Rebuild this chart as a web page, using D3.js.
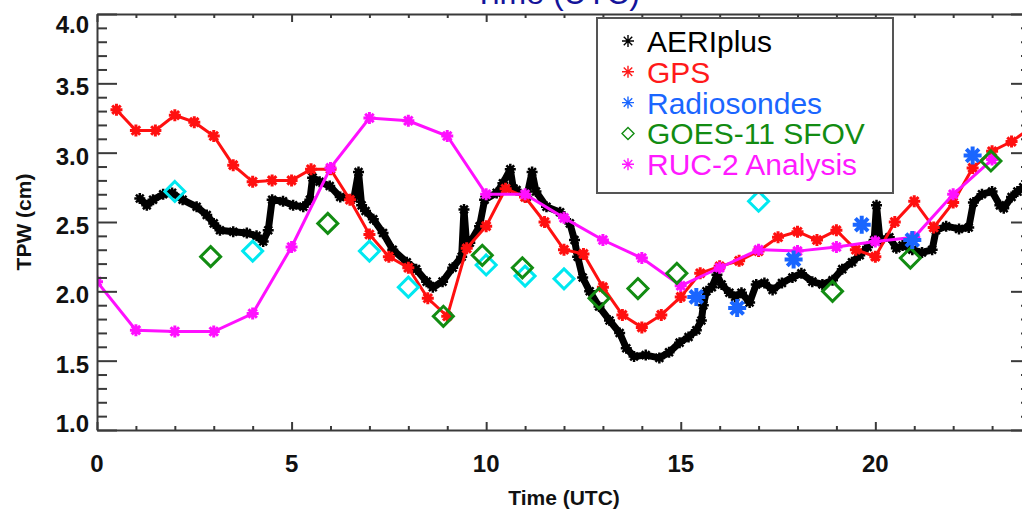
<!DOCTYPE html>
<html>
<head>
<meta charset="utf-8">
<script src="https://cdn.jsdelivr.net/npm/d3@7"></script>
<style>
  html, body { margin: 0; padding: 0; background: #fff; }
  svg { display: block; }
  text { font-family: "Liberation Sans", Arial, Helvetica, sans-serif; }
</style>
</head>
<body>
<svg id="chart" width="1022" height="511"></svg>
<script>
// Total precipitable water over one day, several retrieval sources.

// AERIplus retrieval: [hour UTC, TPW cm]
const aeriHours = [1.10,1.28,1.44,1.70,1.93,2.20,2.56,2.82,3.00,3.16,3.50,3.85,4.10,4.27,4.40,4.50,4.78,5.04,5.30,5.47,5.54,5.72,5.98,6.25,6.60,6.72,6.80,6.90,7.10,7.35,7.60,7.96,8.20,8.47,8.63,8.88,9.14,9.37,9.43,9.50,9.58,9.83,9.96,10.27,10.43,10.62,10.70,10.78,11.04,11.18,11.28,11.55,11.90,12.15,12.27,12.35,12.48,12.66,12.90,13.17,13.43,13.60,13.80,14.10,14.45,14.70,14.97,15.20,15.40,15.53,15.58,15.66,15.80,15.93,16.05,16.25,16.40,16.56,16.77,16.94,17.15,17.36,17.60,17.87,18.10,18.38,18.64,18.90,19.15,19.40,19.60,19.80,19.97,20.03,20.12,20.36,20.54,20.70,20.95,21.20,21.46,21.56,21.82,22.15,22.40,22.52,22.74,23.00,23.20,23.30,23.50,23.65,23.80,24.00];
const aeriTpw   = [2.67,2.62,2.66,2.70,2.71,2.66,2.61,2.55,2.49,2.44,2.43,2.42,2.40,2.36,2.44,2.66,2.65,2.62,2.61,2.66,2.82,2.79,2.76,2.68,2.67,2.86,2.62,2.58,2.52,2.42,2.30,2.21,2.16,2.07,2.03,2.07,2.17,2.25,2.59,2.33,2.35,2.47,2.66,2.71,2.78,2.88,2.74,2.73,2.68,2.86,2.72,2.61,2.57,2.49,2.37,2.25,2.10,2.00,1.89,1.79,1.70,1.59,1.53,1.54,1.52,1.56,1.63,1.67,1.72,1.79,1.90,2.00,2.03,2.12,2.05,1.99,1.96,1.99,1.92,2.05,2.06,2.01,2.06,2.10,2.13,2.07,2.05,2.08,2.16,2.21,2.26,2.32,2.37,2.62,2.37,2.39,2.31,2.33,2.30,2.28,2.30,2.44,2.47,2.45,2.46,2.64,2.70,2.72,2.62,2.60,2.68,2.72,2.75,2.74];

// GPS, half-hourly
const gpsHours = [0.5,1.0,1.5,2.0,2.5,3.0,3.5,4.0,4.5,5.0,5.5,6.0,6.5,7.0,7.5,8.0,8.5,9.0,9.5,10.0,10.5,11.0,11.5,12.0,12.5,13.0,13.5,14.0,14.5,15.0,15.5,16.0,16.5,17.0,17.5,18.0,18.5,19.0,19.5,20.0,20.5,21.0,21.5,22.0,22.5,23.0,23.5,24.0];
const gpsTpw   = [3.31,3.16,3.16,3.27,3.22,3.12,2.91,2.79,2.80,2.80,2.88,2.88,2.66,2.41,2.25,2.17,1.95,1.82,2.31,2.47,2.74,2.68,2.50,2.30,2.27,2.03,1.83,1.74,1.83,1.96,2.13,2.18,2.22,2.29,2.39,2.43,2.37,2.44,2.30,2.25,2.50,2.65,2.46,2.64,2.89,3.01,3.08,3.18];

// Radiosonde launches
const sondeHours = [15.4,16.45,17.9,19.65,20.95,22.5];
const sondeTpw   = [1.96,1.88,2.23,2.48,2.37,2.98];

// GOES-11 single field-of-view retrievals
const goesHours = [2.92,5.93,8.9,9.9,10.93,12.9,13.9,14.9,18.9,20.9,22.97];
const goesTpw   = [2.25,2.49,1.82,2.26,2.17,1.95,2.02,2.13,2.00,2.24,2.94];

// Additional satellite retrievals (cyan)
const cyanHours = [2.0,4.0,7.0,8.0,10.0,11.0,12.0,17.0];
const cyanTpw   = [2.72,2.29,2.29,2.03,2.19,2.11,2.09,2.65];

// RUC-2 analysis, hourly
const rucHours = [0,1,2,3,4,5,6,7,8,9,10,11,12,13,14,15,16,17,18,19,20,21,22,23];
const rucTpw   = [2.07,1.72,1.71,1.71,1.84,2.32,2.89,3.25,3.23,3.12,2.70,2.70,2.53,2.37,2.24,2.04,2.17,2.30,2.29,2.32,2.36,2.39,2.70,2.95];

// Axis ticks and labels
const xMajor = [0,5,10,15,20];
const xLabels = ["0","5","10","15","20"];
const yMajor = [1.0,1.5,2.0,2.5,3.0,3.5,4.0];
const yLabels = ["1.0","1.5","2.0","2.5","3.0","3.5","4.0"];

const legendNames = ["AERIplus","GPS","Radiosondes","GOES-11 SFOV","RUC-2 Analysis"];
const legendColors = ["#000000","#ff1a1a","#1a66ff","#128c12","#ff1aff"];
const legendShapes = ["star","star","star","diamond","star"];

const zip = (a, b) => a.map((v, i) => [v, b[i]]);

const svg = d3.select("#chart");
const x = d3.scaleLinear().domain([0, 24]).range([97, 1031]);
const y = d3.scaleLinear().domain([1, 4]).range([430, 14]);
const axisColor = "#3a3a3a";

svg.append("defs").append("clipPath").attr("id", "plotClip")
  .append("rect").attr("x", x(0)).attr("y", y(4)).attr("width", x(24) - x(0)).attr("height", y(1) - y(4));

function starPath(r) {
  const d = r * 0.7071;
  return `M0,${-r}L0,${r}M${-r},0L${r},0M${-d},${-d}L${d},${d}M${-d},${d}L${d},${-d}`;
}
function diamondPath(r) {
  return `M0,${-r}L${r},0L0,${r}L${-r},0Z`;
}

// Title (top of the figure)
svg.append("text")
  .attr("x", 640).attr("y", 4)
  .attr("text-anchor", "end")
  .attr("font-size", 32)
  .attr("fill", "#14149a")
  .text("Time (UTC)");

const plot = svg.append("g").attr("clip-path", "url(#plotClip)");
const line = d3.line().x(d => x(d[0])).y(d => y(d[1]));

// AERIplus: dense trace of asterisks
const aeri = zip(aeriHours, aeriTpw);
plot.append("path").datum(aeri)
  .attr("d", line).attr("fill", "none")
  .attr("stroke", "#000").attr("stroke-width", 7).attr("stroke-linejoin", "round");
plot.append("g").selectAll("path").data(aeri).join("path")
  .attr("transform", d => `translate(${x(d[0])},${y(d[1])})`)
  .attr("d", starPath(5.5)).attr("stroke", "#000").attr("stroke-width", 2.5).attr("fill", "none");

// GPS
const gps = zip(gpsHours, gpsTpw);
plot.append("path").datum(gps)
  .attr("d", line).attr("fill", "none")
  .attr("stroke", "#ff1010").attr("stroke-width", 3);
plot.append("g").selectAll("path").data(gps).join("path")
  .attr("transform", d => `translate(${x(d[0])},${y(d[1])})`)
  .attr("d", starPath(6)).attr("stroke", "#ff1010").attr("stroke-width", 3).attr("fill", "none");

// RUC-2 analysis
const ruc = zip(rucHours, rucTpw);
plot.append("path").datum(ruc)
  .attr("d", line).attr("fill", "none")
  .attr("stroke", "#ff10ff").attr("stroke-width", 3);
plot.append("g").selectAll("path").data(ruc).join("path")
  .attr("transform", d => `translate(${x(d[0])},${y(d[1])})`)
  .attr("d", starPath(6)).attr("stroke", "#ff10ff").attr("stroke-width", 3).attr("fill", "none");

// Cyan diamonds
plot.append("g").selectAll("path").data(zip(cyanHours, cyanTpw)).join("path")
  .attr("transform", d => `translate(${x(d[0])},${y(d[1])})`)
  .attr("d", diamondPath(10)).attr("stroke", "#00e8f0").attr("stroke-width", 3).attr("fill", "none");

// GOES-11 diamonds
plot.append("g").selectAll("path").data(zip(goesHours, goesTpw)).join("path")
  .attr("transform", d => `translate(${x(d[0])},${y(d[1])})`)
  .attr("d", diamondPath(10)).attr("stroke", "#128c12").attr("stroke-width", 3).attr("fill", "none");

// Radiosondes
plot.append("g").selectAll("path").data(zip(sondeHours, sondeTpw)).join("path")
  .attr("transform", d => `translate(${x(d[0])},${y(d[1])})`)
  .attr("d", starPath(9)).attr("stroke", "#1a66ff").attr("stroke-width", 4).attr("fill", "none");

// Axes: box with inward ticks on all four sides
const minorX = d3.range(0, 25, 1);
const minorY = d3.range(10, 41, 1).map(v => v / 10);

const axB = d3.axisBottom(x).tickValues(minorX).tickSize(0).tickFormat("");
const axT = d3.axisTop(x).tickValues(minorX).tickSize(0).tickFormat("");
const axL = d3.axisLeft(y).tickValues(minorY).tickSize(0).tickFormat("");
const axR = d3.axisRight(y).tickValues(minorY).tickSize(0).tickFormat("");

function styleAxis(g) {
  g.selectAll(".domain").attr("stroke", axisColor).attr("stroke-width", 2);
  g.selectAll(".tick line").attr("stroke", axisColor).attr("stroke-width", 2);
}

const gB = svg.append("g").attr("transform", `translate(0,${y(1)})`).call(axB);
gB.selectAll(".tick line").attr("y2", d => xMajor.includes(d) ? -8 : -4);
styleAxis(gB);
const gT = svg.append("g").attr("transform", `translate(0,${y(4)})`).call(axT);
gT.selectAll(".tick line").attr("y2", d => xMajor.includes(d) ? 8 : 4);
styleAxis(gT);
const isMajorY = v => yMajor.some(m => Math.abs(m - v) < 1e-6);
const gL = svg.append("g").attr("transform", `translate(${x(0)},0)`).call(axL);
gL.selectAll(".tick line").attr("x2", d => isMajorY(d) ? 20 : 10);
styleAxis(gL);
const gR = svg.append("g").attr("transform", `translate(${x(24)},0)`).call(axR);
gR.selectAll(".tick line").attr("x2", d => isMajorY(d) ? -20 : -10);
styleAxis(gR);

// Tick labels
svg.append("g").selectAll("text").data(xMajor).join("text")
  .attr("x", d => x(d)).attr("y", 472)
  .attr("text-anchor", "middle").attr("font-size", 24).attr("font-weight", "bold")
  .attr("fill", "#111")
  .text((d, i) => xLabels[i]);

svg.append("g").selectAll("text").data(yMajor).join("text")
  .attr("x", 89)
  .attr("y", (d, i) => i === 0 ? y(d) + 2 : (i === yMajor.length - 1 ? y(d) + 19 : y(d) + 12))
  .attr("text-anchor", "end").attr("font-size", 24).attr("font-weight", "bold")
  .attr("fill", "#111")
  .text((d, i) => yLabels[i]);

// Axis titles
svg.append("text")
  .attr("x", (x(0) + x(24)) / 2).attr("y", 505)
  .attr("text-anchor", "middle").attr("font-size", 21).attr("font-weight", "bold")
  .attr("fill", "#111").text("Time (UTC)");
svg.append("text")
  .attr("transform", `translate(31,${(y(1) + y(4)) / 2}) rotate(-90)`)
  .attr("text-anchor", "middle").attr("font-size", 21).attr("font-weight", "bold")
  .attr("fill", "#111").text("TPW (cm)");

// Legend
const lg = svg.append("g");
lg.append("rect").attr("x", 597).attr("y", 18).attr("width", 296).attr("height", 175)
  .attr("fill", "#fff").attr("stroke", "#555").attr("stroke-width", 2);
const rows = lg.selectAll("g.row").data(legendNames).join("g")
  .attr("class", "row")
  .attr("transform", (d, i) => `translate(0,${52 + i * 30.8})`);
rows.append("path")
  .attr("transform", "translate(628,-11)")
  .attr("d", (d, i) => legendShapes[i] === "star" ? starPath(6) : diamondPath(6))
  .attr("stroke", (d, i) => legendColors[i]).attr("stroke-width", 1.4).attr("fill", "none");
rows.append("text")
  .attr("x", 647).attr("y", 0)
  .attr("font-size", 30)
  .attr("fill", (d, i) => legendColors[i])
  .text(d => d);
</script>
</body>
</html>
